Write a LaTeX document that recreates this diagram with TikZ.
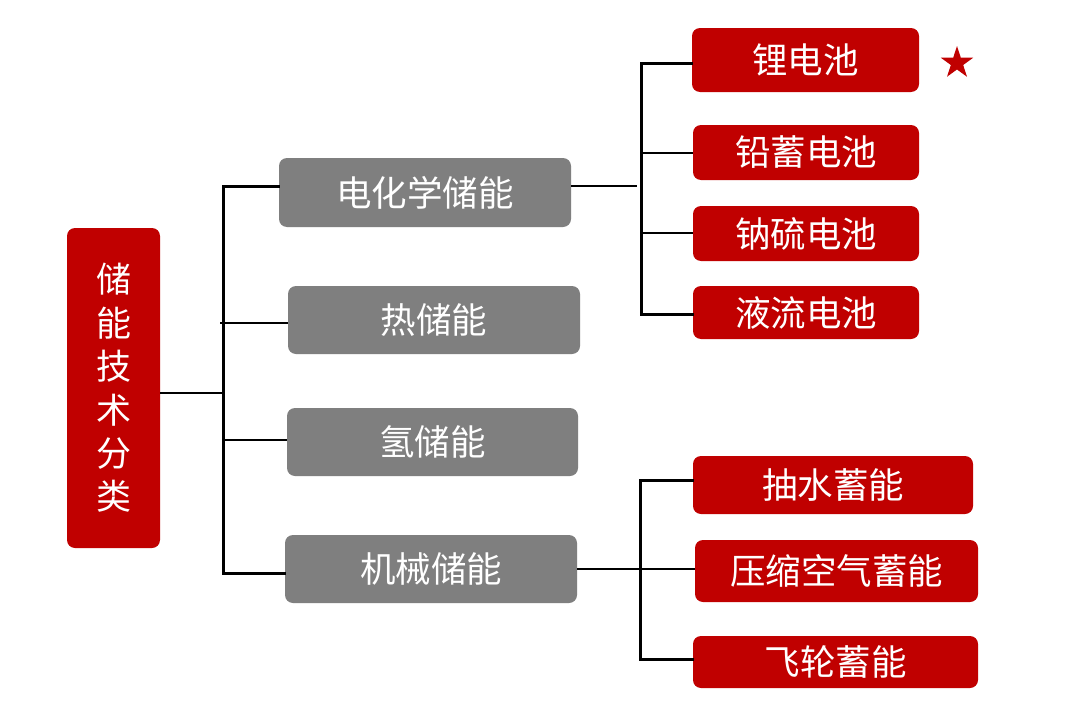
\documentclass[tikz,border=0pt]{standalone}
\usepackage{fontspec}
\newfontfamily\cjk{Noto Sans CJK SC}
\usetikzlibrary{shapes.geometric}
\definecolor{boxred}{HTML}{C00000}
\definecolor{boxgray}{HTML}{7F7F7F}
\begin{document}
\begin{tikzpicture}[x=1pt,y=-1pt,
  redbox/.style={fill=boxred,rounded corners=8pt,text=white,inner sep=0pt,
    font=\cjk\fontsize{35.5pt}{40pt}\selectfont},
  graybox/.style={fill=boxgray,rounded corners=8pt,text=white,inner sep=0pt,
    font=\cjk\fontsize{35.5pt}{40pt}\selectfont},
  busline/.style={line width=3pt,line cap=rect,line join=miter},
  thinline/.style={line width=1.3pt}]
\useasboundingbox[fill=white] (0,0) rectangle (1080,712);
% root
\node[redbox,minimum width=93pt,minimum height=320pt,align=center,
  font=\cjk\fontsize{35pt}{43.4pt}\selectfont] (root) at (113.5,388)
  {储\\能\\技\\术\\分\\类};
% level 2
\node[graybox,minimum width=292pt,minimum height=69pt] (echem) at (425,192.5) {电化学储能};
\node[graybox,minimum width=292pt,minimum height=68pt] (heat) at (434,320) {热储能};
\node[graybox,minimum width=291pt,minimum height=68pt] (hyd) at (432.5,442) {氢储能};
\node[graybox,minimum width=292pt,minimum height=68pt] (mech) at (431,569) {机械储能};
% level 3
\node[redbox,minimum width=227pt,minimum height=64pt] (li) at (805.5,60) {锂电池};
\node[redbox,minimum width=226pt,minimum height=55pt] (pb) at (806,152.5) {铅蓄电池};
\node[redbox,minimum width=226pt,minimum height=55pt] (nas) at (806,233.5) {钠硫电池};
\node[redbox,minimum width=226pt,minimum height=53pt] (flow) at (806,312.5) {液流电池};
\node[redbox,minimum width=280pt,minimum height=58pt] (pump) at (833,485) {抽水蓄能};
\node[redbox,minimum width=283pt,minimum height=62pt] (caes) at (836.5,571) {压缩空气蓄能};
\node[redbox,minimum width=285pt,minimum height=52pt] (fly) at (835.5,662) {飞轮蓄能};
% star
\node[star,star points=5,star point ratio=2.618,fill=boxred,minimum size=34pt,inner sep=0pt] (star) at (957,63) {};
% bus coordinates
\coordinate (L1) at (223,186);
\coordinate (L4) at (223,573);
\coordinate (Lr) at (225,393);
\coordinate (Lh) at (220,323);
\coordinate (Lg) at (225,440);
\coordinate (R1) at (641,63);
\coordinate (R4) at (641,314);
\coordinate (Rpb) at (641,153);
\coordinate (Rna) at (641,233);
\coordinate (Re) at (637,186);
\coordinate (M1) at (640,480);
\coordinate (M3) at (640,659);
\coordinate (Mm) at (640,569);
% connectors
\draw[busline] (L1 -| echem.west) -- (L1) -- (L4) -- (L4 -| mech.west);
\draw[thinline] (Lr -| root.east) -- (Lr);
\draw[thinline] (Lh) -- (Lh -| heat.west);
\draw[thinline] (Lg) -- (Lg -| hyd.west);
\draw[busline] (R1 -| li.west) -- (R1) -- (R4) -- (R4 -| flow.west);
\draw[thinline] (Rpb) -- (Rpb -| pb.west);
\draw[thinline] (Rna) -- (Rna -| nas.west);
\draw[thinline] (Re -| echem.east) -- (Re);
\draw[busline] (M1 -| pump.west) -- (M1) -- (M3) -- (M3 -| fly.west);
\draw[thinline] (Mm -| mech.east) -- (Mm -| caes.west);
\end{tikzpicture}
\end{document}
